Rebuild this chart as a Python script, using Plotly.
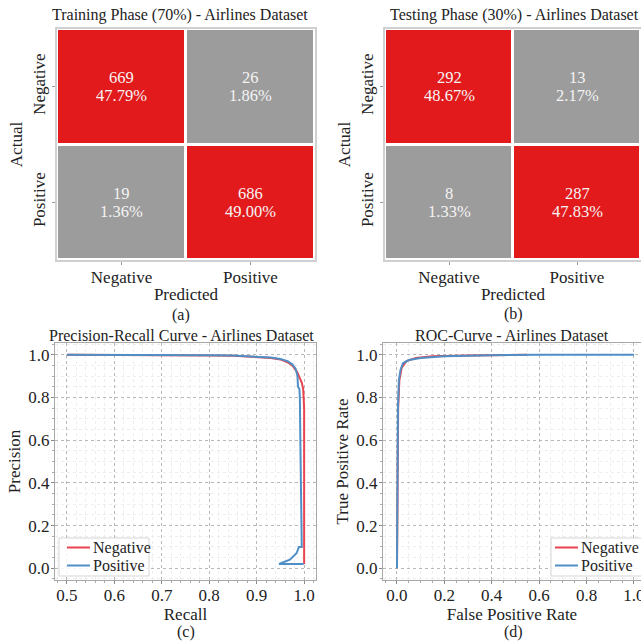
import plotly.graph_objects as go

# ---------------- data ----------------
classes = ["Negative", "Positive"]
train_counts = [[669, 26], [19, 686]]
train_pct = [["47.79%", "1.86%"], ["1.36%", "49.00%"]]
test_counts = [[292, 13], [8, 287]]
test_pct = [["48.67%", "2.17%"], ["1.33%", "47.83%"]]

pr_neg_recall = [0.5, 0.6, 0.7, 0.8, 0.85, 0.9, 0.93, 0.95, 0.965, 0.975, 0.985, 0.99, 0.995, 0.998, 1.0, 1.0, 1.0]
pr_neg_precision = [1.0, 1.0, 0.999, 0.997, 0.995, 0.99, 0.985, 0.978, 0.965, 0.95, 0.92, 0.895, 0.87, 0.84, 0.75, 0.3, 0.02]
pr_pos_recall = [0.5, 0.6, 0.7, 0.8, 0.85, 0.9, 0.93, 0.95, 0.965, 0.975, 0.982, 0.986, 0.987, 0.99, 0.991, 0.992, 0.993, 0.993, 0.994, 0.995, 0.989, 0.984, 0.97, 0.947, 0.999]
pr_pos_precision = [1.0, 1.0, 0.999, 0.998, 0.996, 0.992, 0.987, 0.98, 0.97, 0.955, 0.935, 0.9, 0.85, 0.84, 0.8, 0.6, 0.4, 0.25, 0.12, 0.1, 0.1, 0.07, 0.04, 0.02, 0.02]

roc_neg_fpr = [0.0, 0.003, 0.005, 0.01, 0.02, 0.04, 0.08, 0.15, 0.3, 0.55]
roc_neg_tpr = [0.0, 0.47, 0.75, 0.88, 0.94, 0.97, 0.985, 0.993, 0.997, 1.0]
roc_pos_fpr = [0.0, 0.002, 0.004, 0.008, 0.015, 0.025, 0.05, 0.1, 0.2, 0.4, 0.6, 1.0]
roc_pos_tpr = [0.0, 0.47, 0.75, 0.88, 0.93, 0.96, 0.975, 0.985, 0.993, 0.998, 1.0, 1.0]

legend_names = ["Negative", "Positive"]

# ---------------- style ----------------
FONT = "Liberation Serif, Times New Roman, serif"
RED = "#e31a1c"
GRAY = "#9c9c9c"
LRED = "#e8434e"
LBLUE = "#4f8fc6"
TXT = "#222222"
W = H = 641

def fx(px):
    return px / W

def fy(py):
    return 1 - py / H

fig = go.Figure()

cscale = [[0, GRAY], [0.5, GRAY], [0.5, RED], [1, RED]]

def cm_trace(counts, xa, ya):
    return go.Heatmap(z=counts, x=classes, y=classes,
                      colorscale=cscale, showscale=False, xgap=3, ygap=3,
                      xaxis=xa, yaxis=ya, hoverinfo="skip")

fig.add_trace(cm_trace(train_counts, "x", "y"))
fig.add_trace(cm_trace(test_counts, "x2", "y2"))

def cm_labels(counts, pct, xa, ya):
    for i in range(2):
        for j in range(2):
            for txt, sh in ((str(counts[i][j]), 9), (pct[i][j], -9)):
                fig.add_annotation(text=txt, x=classes[j], y=classes[i], xref=xa, yref=ya,
                                   yshift=sh, showarrow=False,
                                   font=dict(family=FONT, size=16.5, color="#f4f4f4"))

cm_labels(train_counts, train_pct, "x", "y")
cm_labels(test_counts, test_pct, "x2", "y2")

fig.add_trace(go.Scatter(x=pr_neg_recall, y=pr_neg_precision, mode="lines", name=legend_names[0],
                         line=dict(color=LRED, width=2), xaxis="x3", yaxis="y3", showlegend=False))
fig.add_trace(go.Scatter(x=pr_pos_recall, y=pr_pos_precision, mode="lines", name=legend_names[1],
                         line=dict(color=LBLUE, width=2), xaxis="x3", yaxis="y3", showlegend=False))
fig.add_trace(go.Scatter(x=roc_neg_fpr, y=roc_neg_tpr, mode="lines", name=legend_names[0],
                         line=dict(color=LRED, width=2), xaxis="x4", yaxis="y4", showlegend=False))
fig.add_trace(go.Scatter(x=roc_pos_fpr, y=roc_pos_tpr, mode="lines", name=legend_names[1],
                         line=dict(color=LBLUE, width=2), xaxis="x4", yaxis="y4", showlegend=False))

tickfont = dict(family=FONT, size=17, color=TXT)
titlefont = dict(family=FONT, size=17, color=TXT)

def cm_xaxis(xdom, ya_name):
    return dict(domain=xdom, anchor=ya_name, showgrid=False, zeroline=False, ticks="outside",
                ticklen=3, tickcolor="#999", tickfont=tickfont, automargin=False,
                ticklabelstandoff=-2,
                title=dict(text="Predicted", font=titlefont, standoff=2),
                showline=True, mirror=True, linecolor="#d0d0d0", linewidth=2)

def cm_yaxis(ydom, xa_name):
    return dict(domain=ydom, anchor=xa_name, showgrid=False, zeroline=False, ticks="outside",
                ticklen=3, tickcolor="#999", tickfont=tickfont, tickangle=-90,
                autorange="reversed", automargin=False,
                title=dict(text="Actual", font=titlefont, standoff=3),
                showline=True, mirror=True, linecolor="#d0d0d0", linewidth=2)

dom_a_x = [fx(57), fx(315)]
dom_b_x = [fx(385), fx(641)]
dom_top_y = [fy(260), fy(29)]
dom_c_x = [fx(55), fx(316)]
dom_d_x = [fx(383), fx(641)]
dom_bot_y = [fy(580), fy(343)]

def line_axes(dom, anchor, rng, dtick, minor_dtick, title, standoff, lstand):
    return dict(domain=dom, anchor=anchor, range=rng, dtick=dtick, tick0=0,
                showgrid=True, gridcolor="#b8b8b8", griddash="dot", gridwidth=1,
                zeroline=False, ticks="outside", ticklen=3, tickcolor="#888",
                tickfont=tickfont, tickformat=".1f", automargin=False,
                ticklabelstandoff=lstand, ticklabeloverflow="allow",
                minor=dict(dtick=minor_dtick, showgrid=True, gridcolor="#ededed",
                           ticks="outside", ticklen=2, tickcolor="#aaa"),
                showline=True, mirror=True, linecolor="#a8a8a8", linewidth=1,
                title=dict(text=title, font=titlefont, standoff=standoff))

fig.update_layout(
    width=W, height=H, margin=dict(l=0, r=0, t=0, b=0, autoexpand=False),
    paper_bgcolor="white", plot_bgcolor="white",
    font=dict(family=FONT, color=TXT),
    showlegend=False,
    xaxis=cm_xaxis(dom_a_x, "y"),
    yaxis=cm_yaxis(dom_top_y, "x"),
    xaxis2=cm_xaxis(dom_b_x, "y2"),
    yaxis2=cm_yaxis(dom_top_y, "x2"),
    xaxis3=line_axes(dom_c_x, "y3", [0.475, 1.025], 0.1, 0.02, "Recall", 0, -3),
    yaxis3=line_axes(dom_bot_y, "x3", [-0.055, 1.055], 0.2, 0.05, "Precision", 3, -2),
    xaxis4=line_axes(dom_d_x, "y4", [-0.059, 1.03], 0.2, 0.05, "False Positive Rate", 0, -3),
    yaxis4=line_axes(dom_bot_y, "x4", [-0.055, 1.055], 0.2, 0.05, "True Positive Rate", 3, -2),
)

ann = [
    ("Training Phase (70%) - Airlines Dataset", 180, 15),
    ("Testing Phase (30%) - Airlines Dataset", 514, 15),
    ("Precision-Recall Curve - Airlines Dataset", 181, 335),
    ("ROC-Curve - Airlines Dataset", 512, 335),
    ("(a)", 181, 315),
    ("(b)", 513, 314),
    ("(c)", 186, 632),
    ("(d)", 513, 632),
]
for txt, x, y in ann:
    fig.add_annotation(text=txt, x=fx(x), y=fy(y), xref="paper", yref="paper",
                       showarrow=False, xanchor="center", yanchor="middle",
                       font=dict(family=FONT, size=16, color=TXT))

# compact legends (matplotlib-like)
def add_legend(x0, x1, y0, y1, lx0, lx1, rows):
    fig.add_shape(type="rect", xref="paper", yref="paper",
                  x0=fx(x0), x1=fx(x1), y0=fy(y1), y1=fy(y0),
                  line=dict(color="#d5d5d5", width=1), fillcolor="rgba(255,255,255,0.85)", layer="above")
    for (name, color, yy) in rows:
        fig.add_shape(type="line", xref="paper", yref="paper",
                      x0=fx(lx0), x1=fx(lx1), y0=fy(yy), y1=fy(yy),
                      line=dict(color=color, width=2), layer="above")
        fig.add_annotation(text=name, x=fx(lx1 + 1), y=fy(yy), xref="paper", yref="paper",
                           showarrow=False, xanchor="left", yanchor="middle",
                           font=dict(family=FONT, size=16, color=TXT))

add_legend(59, 149, 538, 576, 67, 90,
           [(legend_names[0], LRED, 547.5), (legend_names[1], LBLUE, 565.5)])
add_legend(551, 645, 538, 576, 555, 578,
           [(legend_names[0], LRED, 547.5), (legend_names[1], LBLUE, 565.5)])

fig.write_html("out.html", config={"displayModeBar": False},
               post_script="document.body.style.margin='0';document.body.style.overflow='hidden';")
